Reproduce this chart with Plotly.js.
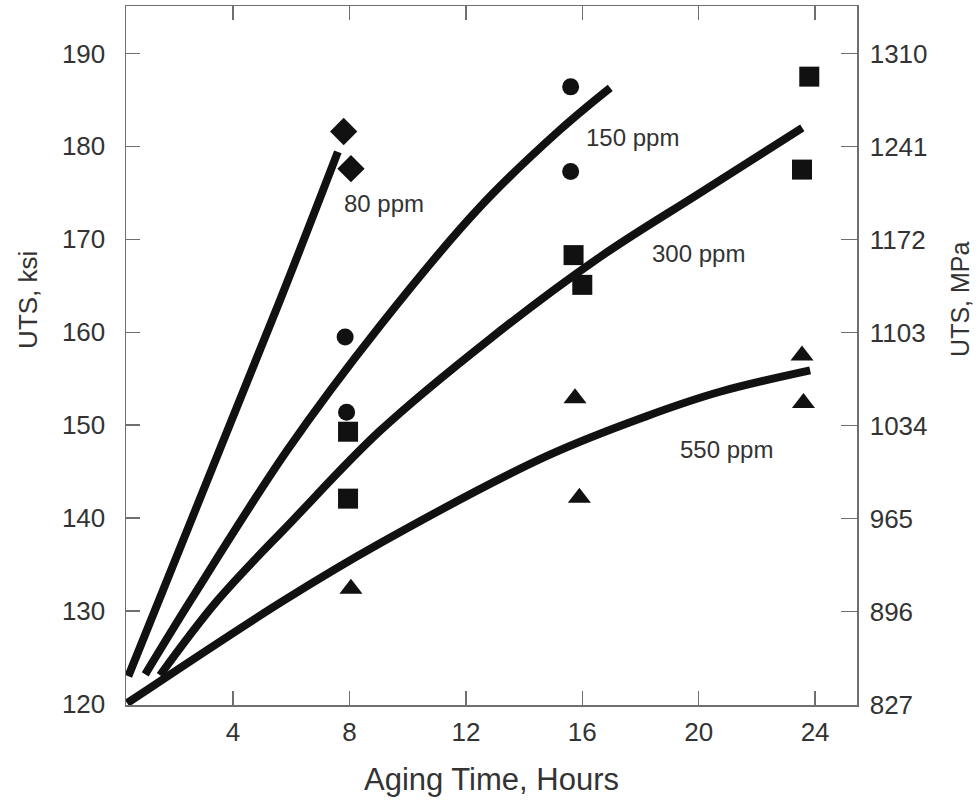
<!DOCTYPE html>
<html>
<head>
<meta charset="utf-8">
<script src="https://cdn.plot.ly/plotly-3.0.1.min.js"></script>
<style>html,body{margin:0;padding:0;background:#fff;}#chart{width:979px;height:803px;}</style>
</head>
<body>
<div id="chart"></div>
<script>
// Measured points (Aging time in hours, UTS in ksi)
const d80X = [7.8, 8.05];
const d80Y = [181.6, 177.6];
const d150X = [7.85, 7.9, 15.6, 15.6];
const d150Y = [159.5, 151.4, 186.4, 177.3];
const d300X = [7.95, 7.95, 15.7, 16.0, 23.8, 23.55];
const d300Y = [149.3, 142.1, 168.3, 165.1, 187.5, 177.5];
const d550X = [8.05, 15.75, 15.9, 23.55, 23.6];
const d550Y = [132.4, 152.9, 142.2, 157.5, 152.4];

// Fitted trend curves
const f80X = [0.4, 5.62, 7.6];
const f80Y = [123.0, 163.5, 179.4];
const f150X = [0.98, 2.53, 5.86, 9.05, 12.49, 15.24, 16.96];
const f150Y = [123.2, 131.1, 147.3, 160.7, 173.5, 181.8, 186.3];
const f300X = [1.49, 3.45, 6.03, 9.05, 12.83, 16.61, 20.05, 23.56];
const f300Y = [123.1, 131.1, 139.7, 149.4, 159.3, 168.1, 175.0, 182.0];
const f550X = [0.36, 5.72, 9.05, 14.79, 18.23, 20.73, 23.83];
const f550Y = [120.1, 131.1, 137.3, 146.7, 151.0, 153.6, 155.9];

// Labels
const curveLabels = ["80 ppm", "150 ppm", "300 ppm", "550 ppm"];
const labelX = [9.19, 17.71, 19.98, 20.97];
const labelY = [173.9, 180.9, 168.5, 147.4];

// Axis ticks
const xTicks = [4, 8, 12, 16, 20, 24];
const ksiTicks = [120, 130, 140, 150, 160, 170, 180, 190];
const mpaTicks = [827, 896, 965, 1034, 1103, 1172, 1241, 1310];

const KSI_TO_MPA = 6.894757;
const yRange = [119.9, 195.1];
const xRange = [0.32, 25.44];

const FONT = '"Liberation Sans", Arial, Helvetica, sans-serif';
const TXT = '#333333';
const INK = '#111111';
const AX = '#6f6f6f';

function curve(x, y) {
  return {x: x, y: y, type: 'scatter', mode: 'lines',
    line: {color: INK, width: 8, shape: 'spline', smoothing: 1},
    showlegend: false, hoverinfo: 'skip'};
}
function pts(x, y, sym, size) {
  return {x: x, y: y, type: 'scatter', mode: 'markers',
    marker: {symbol: sym, size: size, color: INK, line: {width: 0}},
    showlegend: false};
}

const traces = [
  curve(f80X, f80Y), curve(f150X, f150Y), curve(f300X, f300Y), curve(f550X, f550Y),
  pts(d80X, d80Y, 'diamond', 21),
  pts(d150X, d150Y, 'circle', 17),
  pts(d300X, d300Y, 'square', 20),
  pts(d550X, d550Y, 'triangle-up', 20),
  // invisible trace to activate right axis
  {x: [xRange[0]], y: [yRange[0] * KSI_TO_MPA], yaxis: 'y2', type: 'scatter', mode: 'markers',
   marker: {opacity: 0}, showlegend: false, hoverinfo: 'skip'}
];

const annotations = curveLabels.map((t, i) => ({
  x: labelX[i], y: labelY[i], xref: 'x', yref: 'y', text: t, showarrow: false,
  font: {family: FONT, size: 24, color: TXT}
}));
annotations.push({
  xref: 'paper', yref: 'paper', x: -0.135, y: 0.58, xanchor: 'center', yanchor: 'middle',
  text: 'UTS, ksi', textangle: -90,
  showarrow: false, font: {family: FONT, size: 26, color: TXT}
});
annotations.push({
  xref: 'paper', yref: 'paper', x: 1.14, y: 0.58, xanchor: 'center', yanchor: 'middle',
  text: 'UTS, MPa', textangle: -90,
  showarrow: false, font: {family: FONT, size: 25, color: TXT}
});

const layout = {
  width: 979, height: 803,
  margin: {l: 126, r: 122, t: 6, b: 98},
  paper_bgcolor: '#ffffff', plot_bgcolor: '#ffffff',
  font: {family: FONT, color: TXT},
  showlegend: false,
  xaxis: {
    range: xRange, tickvals: xTicks, ticktext: xTicks.map(String),
    ticks: 'inside', ticklen: 14, tickwidth: 1.5, tickcolor: AX,
    showline: true, linecolor: AX, linewidth: 1.5, mirror: 'ticks',
    showgrid: false, zeroline: false,
    tickfont: {family: FONT, size: 26, color: TXT}, ticklabelstandoff: 3,
    title: {text: 'Aging Time, Hours', font: {family: FONT, size: 31, color: TXT}, standoff: 22}
  },
  yaxis: {
    range: yRange, tickvals: ksiTicks, ticktext: ksiTicks.map(String),
    ticks: 'inside', ticklen: 14, tickwidth: 1.5, tickcolor: AX,
    showline: true, linecolor: AX, linewidth: 1.5,
    showgrid: false, zeroline: false,
    tickfont: {family: FONT, size: 26, color: TXT}, ticklabelstandoff: 14
  },
  yaxis2: {
    overlaying: 'y', side: 'right',
    range: [yRange[0] * KSI_TO_MPA, yRange[1] * KSI_TO_MPA],
    tickvals: mpaTicks, ticktext: mpaTicks.map(String),
    ticks: 'inside', ticklen: 16, tickwidth: 1.5, tickcolor: AX,
    showline: true, linecolor: AX, linewidth: 1.5,
    showgrid: false, zeroline: false,
    tickfont: {family: FONT, size: 26, color: TXT}, ticklabelstandoff: 6
  },
  annotations: annotations
};

Plotly.newPlot('chart', traces, layout, {displayModeBar: false, staticPlot: true});
</script>
</body>
</html>
